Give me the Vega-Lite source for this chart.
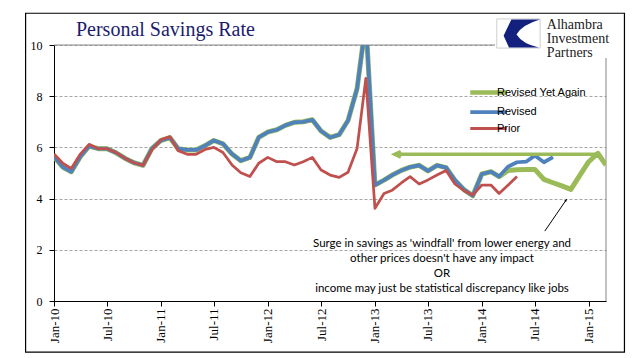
{
  "$schema": "https://vega.github.io/schema/vega-lite/v6.json",
  "width": 552,
  "height": 256,
  "autosize": "none",
  "padding": {"left": 54, "top": 45, "right": 35, "bottom": 57},
  "background": "white",
  "config": {"view": {"stroke": null}},
  "data": {"values": [
    {"date":"2010-01-01","series":"Revised Yet Again","value":5.64},{"date":"2010-02-01","series":"Revised Yet Again","value":5.22},{"date":"2010-03-01","series":"Revised Yet Again","value":5.05},{"date":"2010-04-01","series":"Revised Yet Again","value":5.64},{"date":"2010-05-01","series":"Revised Yet Again","value":6.05},{"date":"2010-06-01","series":"Revised Yet Again","value":5.95},{"date":"2010-07-01","series":"Revised Yet Again","value":5.95},{"date":"2010-08-01","series":"Revised Yet Again","value":5.79},{"date":"2010-09-01","series":"Revised Yet Again","value":5.57},{"date":"2010-10-01","series":"Revised Yet Again","value":5.4},{"date":"2010-11-01","series":"Revised Yet Again","value":5.3},{"date":"2010-12-01","series":"Revised Yet Again","value":5.95},
    {"date":"2011-01-01","series":"Revised Yet Again","value":6.27},{"date":"2011-02-01","series":"Revised Yet Again","value":6.38},{"date":"2011-03-01","series":"Revised Yet Again","value":5.95},{"date":"2011-04-01","series":"Revised Yet Again","value":5.9},{"date":"2011-05-01","series":"Revised Yet Again","value":5.9},{"date":"2011-06-01","series":"Revised Yet Again","value":6.07},{"date":"2011-07-01","series":"Revised Yet Again","value":6.27},{"date":"2011-08-01","series":"Revised Yet Again","value":6.14},{"date":"2011-09-01","series":"Revised Yet Again","value":5.74},{"date":"2011-10-01","series":"Revised Yet Again","value":5.48},{"date":"2011-11-01","series":"Revised Yet Again","value":5.61},{"date":"2011-12-01","series":"Revised Yet Again","value":6.39},
    {"date":"2012-01-01","series":"Revised Yet Again","value":6.6},{"date":"2012-02-01","series":"Revised Yet Again","value":6.69},{"date":"2012-03-01","series":"Revised Yet Again","value":6.86},{"date":"2012-04-01","series":"Revised Yet Again","value":6.98},{"date":"2012-05-01","series":"Revised Yet Again","value":7.0},{"date":"2012-06-01","series":"Revised Yet Again","value":7.08},{"date":"2012-07-01","series":"Revised Yet Again","value":6.64},{"date":"2012-08-01","series":"Revised Yet Again","value":6.39},{"date":"2012-09-01","series":"Revised Yet Again","value":6.5},{"date":"2012-10-01","series":"Revised Yet Again","value":7.05},{"date":"2012-11-01","series":"Revised Yet Again","value":8.3},{"date":"2012-12-01","series":"Revised Yet Again","value":10.9},
    {"date":"2013-01-01","series":"Revised Yet Again","value":4.53},{"date":"2013-02-01","series":"Revised Yet Again","value":4.72},{"date":"2013-03-01","series":"Revised Yet Again","value":4.92},{"date":"2013-04-01","series":"Revised Yet Again","value":5.1},{"date":"2013-05-01","series":"Revised Yet Again","value":5.23},{"date":"2013-06-01","series":"Revised Yet Again","value":5.3},{"date":"2013-07-01","series":"Revised Yet Again","value":5.08},{"date":"2013-08-01","series":"Revised Yet Again","value":5.3},{"date":"2013-09-01","series":"Revised Yet Again","value":5.21},{"date":"2013-10-01","series":"Revised Yet Again","value":4.72},{"date":"2013-11-01","series":"Revised Yet Again","value":4.35},{"date":"2013-12-01","series":"Revised Yet Again","value":4.11},
    {"date":"2014-01-01","series":"Revised Yet Again","value":4.96},{"date":"2014-02-01","series":"Revised Yet Again","value":5.05},{"date":"2014-03-01","series":"Revised Yet Again","value":4.86},{"date":"2014-04-01","series":"Revised Yet Again","value":5.1},{"date":"2014-05-01","series":"Revised Yet Again","value":5.13},{"date":"2014-06-01","series":"Revised Yet Again","value":5.14},{"date":"2014-07-01","series":"Revised Yet Again","value":5.14},{"date":"2014-08-01","series":"Revised Yet Again","value":4.75},{"date":"2014-09-01","series":"Revised Yet Again","value":4.62},{"date":"2014-10-01","series":"Revised Yet Again","value":4.5},{"date":"2014-11-01","series":"Revised Yet Again","value":4.36},{"date":"2014-12-01","series":"Revised Yet Again","value":4.9},
    {"date":"2015-01-01","series":"Revised Yet Again","value":5.44},{"date":"2015-02-01","series":"Revised Yet Again","value":5.77},{"date":"2015-03-01","series":"Revised Yet Again","value":5.31},

    {"date":"2010-01-01","series":"Revised","value":5.64},{"date":"2010-02-01","series":"Revised","value":5.22},{"date":"2010-03-01","series":"Revised","value":5.05},{"date":"2010-04-01","series":"Revised","value":5.64},{"date":"2010-05-01","series":"Revised","value":6.05},{"date":"2010-06-01","series":"Revised","value":5.95},{"date":"2010-07-01","series":"Revised","value":5.95},{"date":"2010-08-01","series":"Revised","value":5.79},{"date":"2010-09-01","series":"Revised","value":5.57},{"date":"2010-10-01","series":"Revised","value":5.4},{"date":"2010-11-01","series":"Revised","value":5.3},{"date":"2010-12-01","series":"Revised","value":5.95},
    {"date":"2011-01-01","series":"Revised","value":6.27},{"date":"2011-02-01","series":"Revised","value":6.38},{"date":"2011-03-01","series":"Revised","value":5.95},{"date":"2011-04-01","series":"Revised","value":5.9},{"date":"2011-05-01","series":"Revised","value":5.9},{"date":"2011-06-01","series":"Revised","value":6.07},{"date":"2011-07-01","series":"Revised","value":6.27},{"date":"2011-08-01","series":"Revised","value":6.14},{"date":"2011-09-01","series":"Revised","value":5.74},{"date":"2011-10-01","series":"Revised","value":5.48},{"date":"2011-11-01","series":"Revised","value":5.61},{"date":"2011-12-01","series":"Revised","value":6.39},
    {"date":"2012-01-01","series":"Revised","value":6.6},{"date":"2012-02-01","series":"Revised","value":6.69},{"date":"2012-03-01","series":"Revised","value":6.86},{"date":"2012-04-01","series":"Revised","value":6.98},{"date":"2012-05-01","series":"Revised","value":7.0},{"date":"2012-06-01","series":"Revised","value":7.08},{"date":"2012-07-01","series":"Revised","value":6.64},{"date":"2012-08-01","series":"Revised","value":6.39},{"date":"2012-09-01","series":"Revised","value":6.5},{"date":"2012-10-01","series":"Revised","value":7.05},{"date":"2012-11-01","series":"Revised","value":8.3},{"date":"2012-12-01","series":"Revised","value":10.9},
    {"date":"2013-01-01","series":"Revised","value":4.53},{"date":"2013-02-01","series":"Revised","value":4.72},{"date":"2013-03-01","series":"Revised","value":4.92},{"date":"2013-04-01","series":"Revised","value":5.1},{"date":"2013-05-01","series":"Revised","value":5.23},{"date":"2013-06-01","series":"Revised","value":5.3},{"date":"2013-07-01","series":"Revised","value":5.08},{"date":"2013-08-01","series":"Revised","value":5.3},{"date":"2013-09-01","series":"Revised","value":5.21},{"date":"2013-10-01","series":"Revised","value":4.72},{"date":"2013-11-01","series":"Revised","value":4.35},{"date":"2013-12-01","series":"Revised","value":4.11},
    {"date":"2014-01-01","series":"Revised","value":4.96},{"date":"2014-02-01","series":"Revised","value":5.05},{"date":"2014-03-01","series":"Revised","value":4.86},{"date":"2014-04-01","series":"Revised","value":5.25},{"date":"2014-05-01","series":"Revised","value":5.42},{"date":"2014-06-01","series":"Revised","value":5.44},{"date":"2014-07-01","series":"Revised","value":5.68},{"date":"2014-08-01","series":"Revised","value":5.42},{"date":"2014-09-01","series":"Revised","value":5.62},

    {"date":"2010-01-01","series":"Prior","value":5.74},{"date":"2010-02-01","series":"Prior","value":5.37},{"date":"2010-03-01","series":"Prior","value":5.18},{"date":"2010-04-01","series":"Prior","value":5.74},{"date":"2010-05-01","series":"Prior","value":6.12},{"date":"2010-06-01","series":"Prior","value":5.95},{"date":"2010-07-01","series":"Prior","value":5.95},{"date":"2010-08-01","series":"Prior","value":5.8},{"date":"2010-09-01","series":"Prior","value":5.57},{"date":"2010-10-01","series":"Prior","value":5.4},{"date":"2010-11-01","series":"Prior","value":5.3},{"date":"2010-12-01","series":"Prior","value":5.9},
    {"date":"2011-01-01","series":"Prior","value":6.3},{"date":"2011-02-01","series":"Prior","value":6.42},{"date":"2011-03-01","series":"Prior","value":5.87},{"date":"2011-04-01","series":"Prior","value":5.73},{"date":"2011-05-01","series":"Prior","value":5.73},{"date":"2011-06-01","series":"Prior","value":5.92},{"date":"2011-07-01","series":"Prior","value":6.0},{"date":"2011-08-01","series":"Prior","value":5.8},{"date":"2011-09-01","series":"Prior","value":5.31},{"date":"2011-10-01","series":"Prior","value":5.01},{"date":"2011-11-01","series":"Prior","value":4.86},{"date":"2011-12-01","series":"Prior","value":5.38},
    {"date":"2012-01-01","series":"Prior","value":5.61},{"date":"2012-02-01","series":"Prior","value":5.44},{"date":"2012-03-01","series":"Prior","value":5.44},{"date":"2012-04-01","series":"Prior","value":5.31},{"date":"2012-05-01","series":"Prior","value":5.44},{"date":"2012-06-01","series":"Prior","value":5.61},{"date":"2012-07-01","series":"Prior","value":5.12},{"date":"2012-08-01","series":"Prior","value":4.92},{"date":"2012-09-01","series":"Prior","value":4.83},{"date":"2012-10-01","series":"Prior","value":5.03},{"date":"2012-11-01","series":"Prior","value":5.96},{"date":"2012-12-01","series":"Prior","value":8.7},
    {"date":"2013-01-01","series":"Prior","value":3.62},{"date":"2013-02-01","series":"Prior","value":4.2},{"date":"2013-03-01","series":"Prior","value":4.33},{"date":"2013-04-01","series":"Prior","value":4.61},{"date":"2013-05-01","series":"Prior","value":4.86},{"date":"2013-06-01","series":"Prior","value":4.57},{"date":"2013-07-01","series":"Prior","value":4.73},{"date":"2013-08-01","series":"Prior","value":4.92},{"date":"2013-09-01","series":"Prior","value":5.1},{"date":"2013-10-01","series":"Prior","value":4.57},{"date":"2013-11-01","series":"Prior","value":4.31},{"date":"2013-12-01","series":"Prior","value":4.14},
    {"date":"2014-01-01","series":"Prior","value":4.53},{"date":"2014-02-01","series":"Prior","value":4.53},{"date":"2014-03-01","series":"Prior","value":4.2},{"date":"2014-04-01","series":"Prior","value":4.53},{"date":"2014-05-01","series":"Prior","value":4.86}
  ]},
  "layer": [
    {
      "data": {"values": [{}]},
      "mark": {"type": "rect", "fill": null, "stroke": "#000000", "strokeWidth": 1.2},
      "encoding": {
        "x": {"datum": {"year": 2009, "month": 9, "date": 26}, "type": "temporal"},
        "x2": {"datum": {"year": 2015, "month": 5, "date": 3}},
        "y": {"datum": -2.0, "type": "quantitative"},
        "y2": {"datum": 11.24}
      }
    },
    {
      "data": {"values": [{}]},
      "mark": {"type": "rule", "color": "#868686", "strokeWidth": 1},
      "encoding": {
        "x": {"datum": {"year": 2010, "month": 1, "date": 1}, "type": "temporal"},
        "x2": {"datum": {"year": 2015, "month": 3, "date": 1}},
        "y": {"datum": 10, "type": "quantitative"}
      }
    },
    {
      "data": {"values": [{}]},
      "mark": {"type": "rule", "color": "#868686", "strokeWidth": 1},
      "encoding": {
        "x": {"datum": {"year": 2015, "month": 3, "date": 1}, "type": "temporal"},
        "y": {"datum": 0, "type": "quantitative"},
        "y2": {"datum": 10}
      }
    },
    {
      "transform": [{"filter": "datum.series === 'Revised Yet Again'"}],
      "mark": {"type": "line", "clip": true, "strokeWidth": 5, "strokeJoin": "round"},
      "encoding": {
        "x": {
          "field": "date", "type": "temporal",
          "scale": {"domain": [{"year": 2010, "month": 1, "date": 1}, {"year": 2015, "month": 3, "date": 1}], "nice": false},
          "axis": {
            "title": null,
            "values": [
              {"year": 2010, "month": 1, "date": 1}, {"year": 2010, "month": 7, "date": 1},
              {"year": 2011, "month": 1, "date": 1}, {"year": 2011, "month": 7, "date": 1},
              {"year": 2012, "month": 1, "date": 1}, {"year": 2012, "month": 7, "date": 1},
              {"year": 2013, "month": 1, "date": 1}, {"year": 2013, "month": 7, "date": 1},
              {"year": 2014, "month": 1, "date": 1}, {"year": 2014, "month": 7, "date": 1},
              {"year": 2015, "month": 1, "date": 1}
            ],
            "format": "%b-%y",
            "labelAngle": 270,
            "labelFlush": false,
            "labelOverlap": false,
            "labelFont": "Liberation Serif",
            "labelFontSize": 13,
            "labelColor": "#000000",
            "labelPadding": 2,
            "domainColor": "#000000",
            "tickColor": "#000000",
            "tickSize": 5,
            "grid": false
          }
        },
        "y": {
          "field": "value", "type": "quantitative",
          "scale": {"domain": [0, 10], "nice": false},
          "axis": {
            "title": null,
            "values": [0, 2, 4, 6, 8, 10],
            "grid": true,
            "gridDash": [3, 2],
            "gridColor": "#a6a6a6",
            "labelFont": "Liberation Serif",
            "labelFontSize": 12,
            "labelColor": "#000000",
            "labelPadding": 7,
            "domainColor": "#000000",
            "tickColor": "#000000",
            "tickSize": 5
          }
        },
        "color": {
          "field": "series", "type": "nominal",
          "scale": {"domain": ["Revised Yet Again", "Revised", "Prior"], "range": ["#9BBB59", "#4F81BD", "#C0504D"]},
          "legend": {
            "title": null,
            "orient": "none",
            "legendX": 429,
            "legendY": 42,
            "padding": 0,
            "symbolType": "stroke",
            "symbolSize": 1329,
            "symbolStrokeWidth": 4,
            "labelFont": "Liberation Sans",
            "labelFontSize": 11,
            "labelColor": "#000000",
            "labelOffset": 3,
            "rowPadding": 2.5,
            "encode": {"symbols": {"update": {"strokeWidth": {"signal": "datum.value === 'Prior' ? 3 : datum.value === 'Revised' ? 3.75 : 4.5"}}}}
          }
        }
      }
    },
    {
      "transform": [{"filter": "datum.series === 'Revised'"}],
      "mark": {"type": "line", "clip": true, "strokeWidth": 3.75, "strokeJoin": "round"},
      "encoding": {
        "x": {"field": "date", "type": "temporal"},
        "y": {"field": "value", "type": "quantitative"},
        "color": {"field": "series", "type": "nominal"}
      }
    },
    {
      "transform": [{"filter": "datum.series === 'Prior'"}],
      "mark": {"type": "line", "clip": true, "strokeWidth": 2.75, "strokeJoin": "round"},
      "encoding": {
        "x": {"field": "date", "type": "temporal"},
        "y": {"field": "value", "type": "quantitative"},
        "color": {"field": "series", "type": "nominal"}
      }
    },
    {
      "data": {"values": [{}]},
      "mark": {"type": "rule", "color": "#9BBB59", "strokeWidth": 3.5},
      "encoding": {
        "x": {"datum": {"year": 2013, "month": 3, "date": 10}, "type": "temporal"},
        "x2": {"datum": {"year": 2015, "month": 2, "date": 1}},
        "y": {"datum": 5.73, "type": "quantitative"}
      }
    },
    {
      "data": {"values": [{}]},
      "mark": {"type": "point", "shape": "M1.6,-0.75L0,0L1.6,0.75", "filled": false, "stroke": "#9BBB59", "strokeWidth": 3.5, "size": 56, "opacity": 1, "strokeJoin": "miter"},
      "encoding": {
        "x": {"datum": {"year": 2013, "month": 3, "date": 10}, "type": "temporal"},
        "y": {"datum": 5.73, "type": "quantitative"}
      }
    },
    {
      "data": {"values": [{}]},
      "mark": {"type": "rule", "color": "#000000", "strokeWidth": 1},
      "encoding": {
        "x": {"datum": {"year": 2014, "month": 8, "date": 4}, "type": "temporal"},
        "x2": {"datum": {"year": 2014, "month": 10, "date": 18}},
        "y": {"datum": 2.73, "type": "quantitative"},
        "y2": {"datum": 3.98}
      }
    },
    {
      "data": {"values": [{}]},
      "mark": {"type": "point", "shape": "M0,0L-0.6,1.4L0.6,1.4Z", "filled": true, "fill": "#000000", "stroke": null, "size": 16, "opacity": 1, "angle": 34.5},
      "encoding": {
        "x": {"datum": {"year": 2014, "month": 10, "date": 18}, "type": "temporal"},
        "y": {"datum": 3.98, "type": "quantitative"}
      }
    },
    {
      "data": {"values": [{}]},
      "mark": {"type": "text", "font": "Lato", "fontSize": 11.5, "color": "#000000", "align": "center", "baseline": "middle", "lineHeight": 15},
      "encoding": {
        "x": {"datum": {"year": 2013, "month": 8, "date": 18}, "type": "temporal"},
        "y": {"datum": 2.23, "type": "quantitative"},
        "text": {"value": ["Surge in savings as 'windfall' from lower energy and", "other prices doesn't have any impact", "OR", "income may just be statistical discrepancy like jobs"]}
      }
    },
    {
      "data": {"values": [{}]},
      "mark": {"type": "rect", "fill": "#ffffff", "stroke": null},
      "encoding": {
        "x": {"datum": {"year": 2014, "month": 2, "date": 15}, "type": "temporal"},
        "x2": {"datum": {"year": 2015, "month": 4, "date": 25}},
        "y": {"datum": 9.49, "type": "quantitative"},
        "y2": {"datum": 11.2}
      }
    },
    {
      "data": {"values": [{}]},
      "mark": {"type": "rect", "fill": "#ffffff", "stroke": "#cfcfcf", "strokeWidth": 1},
      "encoding": {
        "x": {"datum": {"year": 2014, "month": 2, "date": 21}, "type": "temporal"},
        "x2": {"datum": {"year": 2014, "month": 7, "date": 19}},
        "y": {"datum": 9.88, "type": "quantitative"},
        "y2": {"datum": 11.02}
      }
    },
    {
      "data": {"values": [{}]},
      "mark": {"type": "point", "shape": "M-0.33,-0.65L1,-0.65Q0.15,-0.4 -0.09,0.05Q0.2,0.5 0.95,0.65L-0.44,0.65L-0.69,0.1Z", "filled": true, "fill": "#14207e", "stroke": null, "size": 1849, "opacity": 1},
      "encoding": {
        "x": {"datum": {"year": 2014, "month": 5, "date": 6}, "type": "temporal"},
        "y": {"datum": 10.45, "type": "quantitative"}
      }
    },
    {
      "data": {"values": [{}]},
      "mark": {"type": "text", "font": "Liberation Serif", "fontSize": 14, "color": "#222222", "align": "left", "baseline": "middle", "lineHeight": 14},
      "encoding": {
        "x": {"datum": {"year": 2014, "month": 8, "date": 11}, "type": "temporal"},
        "y": {"datum": 10.78, "type": "quantitative"},
        "text": {"value": ["Alhambra", "Investment", "Partners"]}
      }
    },
    {
      "data": {"values": [{}]},
      "mark": {"type": "text", "font": "Liberation Serif", "fontSize": 20, "color": "#1c1c6e", "align": "left", "baseline": "alphabetic"},
      "encoding": {
        "x": {"datum": {"year": 2010, "month": 3, "date": 17}, "type": "temporal"},
        "y": {"datum": 10.37, "type": "quantitative"},
        "text": {"value": "Personal Savings Rate"}
      }
    }
  ]
}
